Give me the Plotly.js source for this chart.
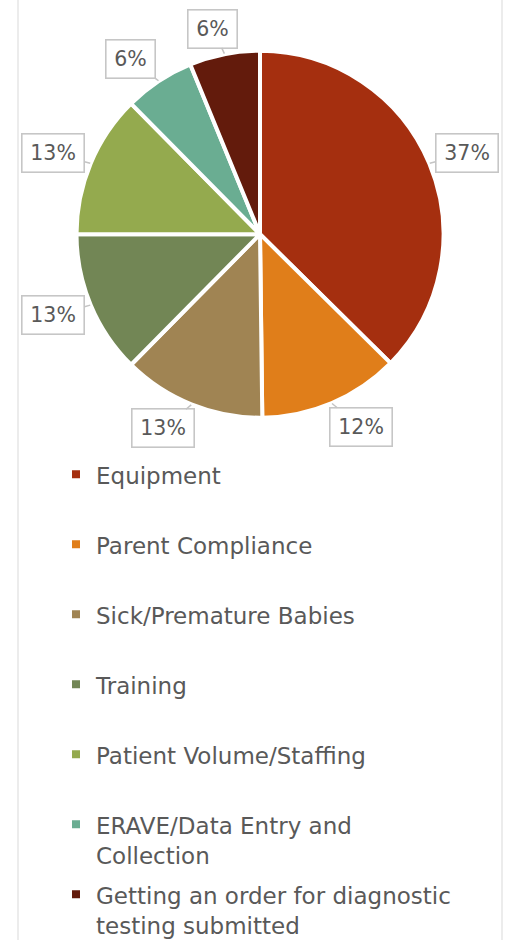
<!DOCTYPE html>
<html><head><meta charset="utf-8">
<script src="https://cdn.plot.ly/plotly-3.0.1.min.js"></script>
<style>html,body{margin:0;padding:0;background:#fff;overflow:hidden;} #chart{width:506px;height:940px;}</style>
</head><body><div id="chart"></div>
<script>
// ---- data ----
const categories = ['Equipment', 'Parent Compliance', 'Sick/Premature Babies', 'Training',
  'Patient Volume/Staffing', 'ERAVE/Data Entry and Collection', 'Getting an order for diagnostic testing submitted'];
const legendText = [['Equipment'], ['Parent Compliance'], ['Sick/Premature Babies'], ['Training'],
  ['Patient Volume/Staffing'], ['ERAVE/Data Entry and', 'Collection'], ['Getting an order for diagnostic', 'testing submitted']];
const values = [37.4, 12.4, 12.6, 12.6, 12.6, 6.2, 6.2];
const colors = ['#A52F0F', '#E07E1A', '#A08453', '#728655', '#94AA4E', '#6AAD92', '#631B0C'];

// ---- layout geometry ----
const W = 506, H = 940;
const cx = 260, cy = 234.2, R = 183.5;
const FONT = 'DejaVu Sans';
const TXT = '#595959';

const labels = legendText.map(ls =>
  ls.map((l, k) => '<span style="font-size:23px' + (k > 0 ? ';baseline-shift:4.5px' : '') + '">' + l + '</span>').join('<br>') +
  (ls.length === 1 ? '<br> ' : ''));

const total = values.reduce((a, b) => a + b, 0);
const annotations = [];
let cum = 0;
values.forEach((v, i) => {
  const mid = (cum + v / 2) / total * 2 * Math.PI;
  cum += v;
  const s = Math.sin(mid), c = Math.cos(mid);
  const label = Math.round(v / total * 100) + '%';
  const bw = 13 * label.length + 14, bh = 29;
  const hw = (bw + 8) / 2, hh = (bh + 8) / 2;
  // anchor point where the label box meets the ray through the slice middle
  const ra = 191, rt = 184;
  const px = cx + ra * s, py = cy - ra * c;
  const bx = px + hw * Math.sign(s) * Math.min(1, 2.2 * Math.abs(s));
  const by = py - hh * c;
  const tipx = cx + rt * s, tipy = cy - rt * c;
  annotations.push({
    x: tipx / W, y: 1 - tipy / H, xref: 'paper', yref: 'paper',
    text: label, showarrow: true, arrowhead: 0, arrowwidth: 1.5, arrowcolor: '#C4C4C4', standoff: 0,
    ax: bx - tipx, ay: by - tipy, width: bw, height: bh, borderpad: 4, borderwidth: 1.6,
    bordercolor: '#C6C6C6', bgcolor: '#FFFFFF',
    font: {family: FONT, size: 20.5, color: TXT}
  });
});

const data = [{
  type: 'pie',
  labels: labels,
  values: values,
  sort: false,
  direction: 'clockwise',
  rotation: 0,
  textinfo: 'none',
  textposition: 'none',
  hoverinfo: 'skip',
  marker: {colors: colors, line: {color: '#FFFFFF', width: 4}},
  domain: {x: [(cx - R) / W, (cx + R) / W], y: [1 - (cy + R) / H, 1 - (cy - R) / H]}
}];

const layout = {
  width: W, height: H,
  margin: {l: 0, r: 0, t: 0, b: 0, autoexpand: false},
  paper_bgcolor: '#FFFFFF',
  showlegend: true,
  legend: {
    x: 56 / W, xanchor: 'left', y: 1 - 451 / H, yanchor: 'top',
    font: {family: FONT, size: 25.77, color: TXT},
    valign: 'top', bgcolor: 'rgba(0,0,0,0)', borderwidth: 0
  },
  annotations: annotations,
  shapes: [{type: 'rect', xref: 'paper', yref: 'paper', x0: 18 / W, x1: 502 / W, y0: -0.03, y1: 1.03,
    line: {color: '#D9D9D9', width: 1}, fillcolor: 'rgba(0,0,0,0)', layer: 'below'}]
};

Plotly.newPlot('chart', data, layout, {staticPlot: true, displayModeBar: false});
</script>
</body></html>
